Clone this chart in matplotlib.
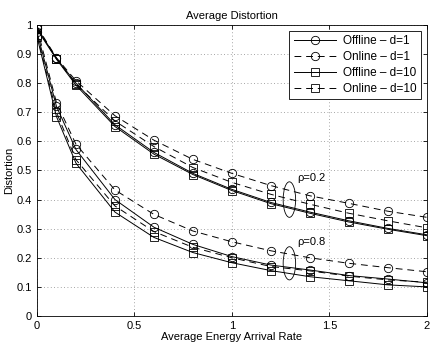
import matplotlib
matplotlib.use("Agg")
import matplotlib.pyplot as plt
from matplotlib.patches import Ellipse

plt.rcParams['font.family'] = ['Liberation Sans', 'DejaVu Sans']

# taux d'arrivée d'énergie
x = [0, 0.1, 0.2, 0.4, 0.6, 0.8, 1.0, 1.2, 1.4, 1.6, 1.8, 2.0]

# rho = 0.2
off_d1_r2 = [0.99, 0.885, 0.80, 0.657, 0.562, 0.49, 0.435, 0.39, 0.357, 0.327, 0.301, 0.279]
on_d1_r2 = [0.995, 0.887, 0.808, 0.688, 0.604, 0.538, 0.49, 0.448, 0.413, 0.387, 0.36, 0.339]
off_d10_r2 = [0.985, 0.882, 0.793, 0.651, 0.556, 0.486, 0.431, 0.386, 0.353, 0.323, 0.298, 0.276]
on_d10_r2 = [0.99, 0.884, 0.797, 0.67, 0.582, 0.51, 0.459, 0.418, 0.384, 0.353, 0.327, 0.303]

# rho = 0.8
off_d1_r8 = [0.975, 0.72, 0.572, 0.40, 0.305, 0.246, 0.204, 0.175, 0.158, 0.139, 0.127, 0.114]
on_d1_r8 = [0.99, 0.733, 0.59, 0.433, 0.349, 0.292, 0.255, 0.224, 0.20, 0.181, 0.166, 0.152]
off_d10_r8 = [0.96, 0.685, 0.525, 0.357, 0.27, 0.218, 0.183, 0.156, 0.135, 0.121, 0.107, 0.10]
on_d10_r8 = [0.965, 0.70, 0.537, 0.378, 0.29, 0.236, 0.20, 0.17, 0.155, 0.137, 0.124, 0.116]

labels = ["Offline \u2013 d=1", "Online \u2013 d=1", "Offline \u2013 d=10", "Online \u2013 d=10"]
markers = ["o", "o", "s", "s"]
styles = ["-", "--", "-", "--"]

fig = plt.figure(figsize=(4.32, 3.46), dpi=100)
ax = fig.add_axes([0.0856, 0.0867, 0.9024, 0.8413])

series_r2 = [off_d1_r2, on_d1_r2, off_d10_r2, on_d10_r2]
series_r8 = [off_d1_r8, on_d1_r8, off_d10_r8, on_d10_r8]

for i in range(4):
    kw = dict(color="black", marker=markers[i], ms=6, mfc="none", mec="black",
              mew=0.6, lw=0.7, linestyle=styles[i])
    if styles[i] == "--":
        kw["dashes"] = (7, 5)
    ax.plot(x, series_r2[i], label=labels[i], **kw)
    ax.plot(x, series_r8[i], **kw)

# ellipses et annotations
ax.add_patch(Ellipse((1.295, 0.40), 0.064, 0.122, fill=False, color="black", lw=0.6))
ax.add_patch(Ellipse((1.295, 0.181), 0.064, 0.114, fill=False, color="black", lw=0.6))
ax.text(1.335, 0.475, "\u03c1=0.2", fontsize=8, va="center")
ax.text(1.335, 0.253, "\u03c1=0.8", fontsize=8, va="center")

ax.set_xlim(0, 2)
ax.set_ylim(0, 1)
ax.set_xticks([0, 0.5, 1, 1.5, 2])
ax.set_xticklabels(["0", "0.5", "1", "1.5", "2"])
ax.set_yticks([i / 10 for i in range(11)])
ax.set_yticklabels(["0"] + [f"{i/10:g}" for i in range(1, 10)] + ["1"])
ax.tick_params(direction="in", top=True, right=True, labelsize=8, length=3, width=0.6)
ax.grid(True, linestyle=(0, (1, 3)), color="#888888", lw=0.6)
for s in ax.spines.values():
    s.set_linewidth(0.6)

ax.set_title("Average Distortion", fontsize=8, pad=4)
ax.set_xlabel("Average Energy Arrival Rate", fontsize=8, labelpad=1)
ax.set_ylabel("Distortion", fontsize=8, labelpad=2)

leg = ax.legend(loc="upper right", fontsize=8.5, fancybox=False, edgecolor="black",
                framealpha=1, handlelength=3.6, borderaxespad=0.5, labelspacing=0.35,
                handletextpad=0.6, borderpad=0.35, numpoints=1)
leg.get_frame().set_linewidth(0.6)

fig.savefig("out.png", dpi=100)
